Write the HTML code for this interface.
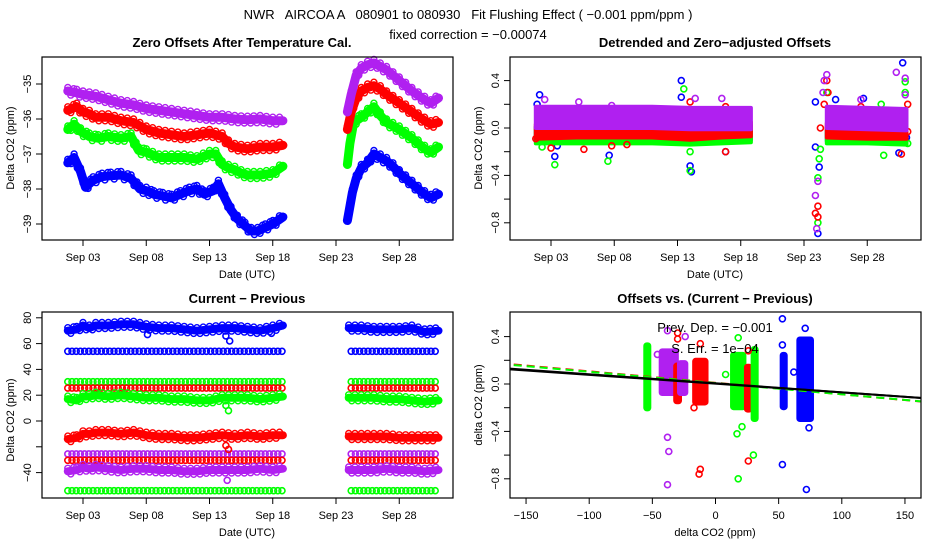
<!DOCTYPE html>
<html><head><meta charset="utf-8"><style>
body{margin:0;background:#fff}
svg{display:block;font-family:"Liberation Sans",sans-serif}
</style></head><body>
<svg id="c" width="936" height="540" viewBox="0 0 936 540" xmlns="http://www.w3.org/2000/svg">
<rect width="936" height="540" fill="#fff"/>
<text x="468" y="19" text-anchor="middle" font-size="13" style="white-space:pre">NWR   AIRCOA A   080901 to 080930   Fit Flushing Effect ( −0.001 ppm/ppm )</text>
<text x="468" y="39" text-anchor="middle" font-size="13">fixed correction = −0.00074</text>
</svg>
<script>
// ---------- data ----------
const colors = {blue:'#0000ff', green:'#00ff00', red:'#ff0000', purple:'#b020f0'};
const seriesOrder = ['blue','green','red','purple'];
const dateTickDays = [3,8,13,18,23,28];
const dateTickLabels = ['Sep 03','Sep 08','Sep 13','Sep 18','Sep 23','Sep 28'];

// Panel 1: zero offsets
const p1Days = {
  blue:[1.8,2.3,2.8,3.2,3.8,4.5,5.2,6,6.8,7.5,8,8.6,9.3,10,10.7,11.4,12,12.6,13.3,13.7,14.2,14.7,15.2,15.8,16.3,16.8,17.4,18,18.8, 23.9,24.1,24.3,24.6,25,25.5,26,26.5,27,27.5,28,28.5,29,29.5,30,30.5,31.1],
  green:[1.8,2.3,2.8,3.5,4.2,5,6,6.8,7.4,8,9,10,11,12,13,13.5,14,14.5,15,15.5,16,17,18,18.8, 23.9,24.1,24.4,25,25.5,26,26.5,27,28,29,29.5,30,30.5,31.1],
  red:[1.8,2.5,3,3.5,4,5,6,7,7.5,8,9,10,11,12,13,14,14.5,15,16,17,18,18.8, 23.9,24.2,24.6,25,25.5,26,26.5,27,28,29,30,30.5,31.1],
  purple:[1.8,2.5,3,4,5,6,7,8,9,10,11,12,13,14,15,16,17,18,18.8, 23.9,24.2,24.6,25,25.5,26,26.5,27,28,29,30,30.5,31.1]
};
const p1Vals = {
  blue:[-37.25,-37.1,-37.5,-37.95,-37.75,-37.65,-37.62,-37.6,-37.7,-38.0,-38.05,-38.15,-38.2,-38.25,-38.15,-38.05,-38.0,-38.15,-38.05,-37.85,-38.25,-38.6,-38.85,-39.05,-39.2,-39.2,-39.1,-39.0,-38.8, -38.9,-38.5,-38.1,-37.7,-37.4,-37.25,-37.0,-37.1,-37.2,-37.35,-37.55,-37.7,-37.85,-38.0,-38.15,-38.25,-38.15],
  green:[-36.3,-36.15,-36.35,-36.5,-36.55,-36.5,-36.55,-36.5,-36.9,-36.95,-37.1,-37.1,-37.1,-37.15,-37.0,-37.0,-37.3,-37.4,-37.45,-37.55,-37.6,-37.6,-37.55,-37.35, -37.3,-36.7,-36.1,-35.95,-35.8,-35.65,-35.9,-36.1,-36.3,-36.55,-36.7,-36.85,-36.95,-36.8],
  red:[-35.75,-35.65,-35.8,-35.85,-35.95,-35.95,-36.05,-36.1,-36.2,-36.3,-36.4,-36.45,-36.5,-36.45,-36.4,-36.5,-36.7,-36.8,-36.85,-36.8,-36.8,-36.75, -36.3,-35.8,-35.4,-35.2,-35.1,-35.05,-35.15,-35.3,-35.55,-35.8,-36.05,-36.15,-36.1],
  purple:[-35.2,-35.25,-35.3,-35.35,-35.45,-35.55,-35.6,-35.7,-35.75,-35.8,-35.85,-35.9,-35.95,-35.95,-36.0,-36.02,-36.0,-36.05,-36.05, -35.8,-35.3,-34.75,-34.55,-34.45,-34.4,-34.5,-34.6,-34.9,-35.2,-35.45,-35.55,-35.4]
};

// Panel 2: detrended band centres + outliers
const p2Days = [1.8,5,8,11,14,16.5,18.8, 24.8,28,31.1];
const p2Vals = {
  blue:[-0.05,-0.05,-0.05,-0.05,-0.06,-0.05,-0.04, -0.05,-0.05,-0.05],
  green:[-0.07,-0.07,-0.07,-0.07,-0.08,-0.07,-0.06, -0.07,-0.07,-0.08],
  red:[-0.03,-0.02,-0.02,-0.02,-0.04,-0.02,-0.01, -0.02,-0.03,-0.03],
  purple:[0.09,0.09,0.09,0.09,0.08,0.08,0.08, 0.09,0.08,0.07]
};
const p2OutDays = {
  blue:[2.1,1.9,3.3,3.5,7.6,13.3,13.3,14,14.1,16.8,23.9,23.9,24.2,24.1,25.5,27.7,30.8,31.1,30.5],
  green:[3.3,7.5,13.5,14,14,24.1,24.1,24.2,24.3,24.8,29.1,29.3,31,31,31.2,2.3],
  red:[1.8,3,5.6,7.8,9,14,16.8,16.8,23.9,24.1,24.1,24.3,24.6,24.8,24.9,27.5,30.7,31.2,31.2],
  purple:[2.5,5.2,7.8,14.4,16.5,23.9,24,24.1,24.5,24.8,24.6,27.5,30.3,31,31,30.5]
};
const p2OutVals = {
  blue:[0.28,0.2,-0.24,-0.15,-0.23,0.4,0.26,-0.32,-0.37,-0.2,0.22,-0.16,-0.33,-0.89,0.24,0.25,0.55,-0.08,-0.21],
  green:[-0.31,-0.28,0.33,-0.36,-0.2,-0.8,-0.42,-0.26,-0.18,0.3,0.2,-0.23,0.39,0.3,-0.13,-0.16],
  red:[-0.09,-0.17,-0.18,-0.15,-0.14,0.22,0.18,-0.2,-0.72,-0.75,-0.66,0.0,0.2,0.4,0.3,0.18,-0.22,0.2,-0.03],
  purple:[0.24,0.22,0.19,0.25,0.25,-0.57,-0.85,-0.45,0.3,0.45,0.4,0.24,0.47,0.42,0.28,0.14]
};

// Panel 3: current - previous
const p3Days = [1.8,2.5,3,3.5,4,5,6,7,8,9,10,11,12,13,14,15,16,17,18,18.8, 24,25,26,27,28,29,30,31.1];
const p3Vals = {
  blue:[70,71,74,72,74,74,75,75,73,72,72,71,70,71,72,72,71,70,72,74, 72,72,71,71,71,72,69,70],
  green:[17,16,19,19,20,19,20,19,18,18,17,17,16,16,18,18,18,17,18,19, 18,18,18,17,17,16,15,16],
  red:[-14,-13,-10,-10,-9,-9,-10,-9,-11,-12,-12,-13,-13,-12,-11,-12,-11,-12,-11,-11, -12,-12,-12,-12,-13,-13,-13,-13],
  purple:[-39,-38,-36,-37,-36,-37,-38,-37,-37,-38,-38,-39,-39,-38,-38,-38,-38,-37,-38,-37, -38,-38,-38,-37,-38,-38,-39,-38]
};
const p3ConstColors = ['blue','green','red','purple','red','green'];
const p3ConstVals = [54,30.5,25.5,-25.5,-30.5,-54];
const p3ConstDays = [1.8,18.8,24.2,31.1];
const p3OutColors = ['blue','blue','blue','blue','green','green','red','red','purple'];
const p3OutDays = [14.3,14.6,17.9,8.1,14.3,14.5,14.3,14.5,14.4];
const p3OutVals = [66,62,68,67,12,8,-19,-22,-46];

// Panel 4: offsets vs (current - previous)
const p4ClColors = ['green','purple','red','purple','red','green','red','green','blue','blue'];
const p4ClX   = [-54,-37,-30,-26,-12,18,26,31,54,71];
const p4ClW   = [1.2,6,1.5,2.5,4.5,4.5,1.5,1.2,1.2,5];
const p4ClLo  = [-0.21,-0.08,-0.15,-0.08,-0.16,-0.2,-0.22,-0.3,-0.2,-0.3];
const p4ClHi  = [0.33,0.28,0.16,0.18,0.2,0.25,0.15,0.3,0.25,0.38];
const p4OutColors = ['purple','purple','purple','purple','purple','purple','red','red','red','red','red','red','red','red','green','green','green','green','green','green','green','blue','blue','blue','blue','blue','blue','blue'];
const p4OutX = [-38,-37,-38,-46,-24,-38,-30,-30,-12,-13,-17,26,-12,26,18,17,21,30,18,8,31,53,53,72,71,53,62,74];
const p4OutY = [-0.45,-0.57,-0.85,0.25,0.4,0.45,0.43,0.38,-0.72,-0.76,-0.2,-0.65,0.34,0.28,-0.8,-0.42,-0.36,-0.6,0.39,0.08,0.23,0.55,-0.68,-0.89,0.47,0.33,0.1,-0.37];
const fitColors = ['red','green','black','black'];
const fitIntercepts = [0.01,0.008,0.006,0.003];
const fitSlopes = [-0.00097,-0.00095,-0.00076,-0.00074];
const p4XTicks = [-150,-100,-50,0,50,100,150];
const offTicks = [0.4,0.2,0.0,-0.2,-0.4,-0.6,-0.8];
const offTickLabels = ['0.4','','0.0','','−0.4','','−0.8'];
const p1Ticks = [-35,-36,-37,-38,-39];
const p3Ticks = [80,60,40,20,0,-20,-40];
const p3TickLabels = ['80','60','40','20','0','','−40'];

// ---------- drawing ----------
const svg = document.getElementById('c');
const NS = 'http://www.w3.org/2000/svg';
function mk(tag, attrs, parent){const e=document.createElementNS(NS,tag);for(const k in attrs)e.setAttribute(k,attrs[k]);(parent||svg).appendChild(e);return e;}
function col(c){return c==='black'?'#000':colors[c];}

function xDayL(d){return 83+(d-3)*12.65;}
function xDayR(d){return 551+(d-3)*12.65;}
const y1 = v => 84+(-35-v)*35;
const yOff = v => 128-v*118.5;
const y3 = v => 421-v*1.29;
const x4 = v => 715.5+v*1.263;
const y4 = v => 384-v*118.5;

function frame(g, x0,x1,y0,yb, name){
  const r = mk('rect',{x:x0,y:y0,width:x1-x0,height:yb-y0,fill:'none',stroke:'#000','stroke-width':1.2},g);
  
  
}
function title(txt,x,y,name){const t=mk('text',{x:x,y:y,'text-anchor':'middle','font-size':13,'font-weight':'bold'});t.textContent=txt;}
function label(txt,x,y,rot,name){const t=mk('text',{x:x,y:y,'text-anchor':'middle','font-size':11,transform:rot?`rotate(-90 ${x} ${y})`:''});t.textContent=txt;}
function xTicks(g, vals, labs, xf, yb, name){
  vals.forEach((v,i)=>{const x=xf(v);
    const l=mk('line',{x1:x,x2:x,y1:yb,y2:yb+6,stroke:'#000'},g);
    
    
    const t=mk('text',{x:x,y:yb+21,'text-anchor':'middle','font-size':11},g);t.textContent=labs[i];
    
    });
}
function yTicks(g, vals, labs, yf, xl, name){
  vals.forEach((v,i)=>{const y=yf(v);
    const l=mk('line',{x1:xl-6,x2:xl,y1:y,y2:y,stroke:'#000'},g);
    
    
    if(labs[i]){const t=mk('text',{x:xl-11,y:y,'text-anchor':'middle','font-size':11,transform:`rotate(-90 ${xl-11} ${y})`},g);t.textContent=labs[i];
    
    }});
}
function segments(days, vals){const segs=[];let cur=[];for(let i=0;i<days.length;i++){const d=days[i];if(cur.length>0&&d-cur[cur.length-1][0]>4.5){segs.push(cur);cur=[];}cur.push([d,vals[i]]);}if(cur.length)segs.push(cur);return segs;}
function band(g, days, vals, xf, yf, c, width, name){
  segments(days, vals).forEach(seg=>{
    const pts=seg.map(p=>[xf(p[0]),yf(p[1])]);
    const pl=mk('polyline',{points:pts.map(p=>p[0].toFixed(1)+','+p[1].toFixed(1)).join(' '),fill:'none',stroke:col(c),'stroke-width':width,'stroke-linejoin':'round','stroke-linecap':'round'},g);
    
    
    for(let i=0;i<pts.length-1;i++){const ax=pts[i][0],ay=pts[i][1],bx=pts[i+1][0],by=pts[i+1][1];const n=Math.max(1,Math.round((bx-ax)/3));
      for(let k=0;k<n;k++){const t=k/n;const x=ax+(bx-ax)*t,y=ay+(by-ay)*t;const off=(k%2?1:-1)*(width/2-1);
        const ci=mk('circle',{cx:x.toFixed(1),cy:(y+off).toFixed(1),r:3,fill:'none',stroke:col(c),'stroke-width':1.4},g);
        
        }}
  });
}
function pt(g,x,y,c,name){const ci=mk('circle',{cx:x.toFixed(1),cy:y.toFixed(1),r:3,fill:'none',stroke:col(c),'stroke-width':1.6},g);
  
  }

// Panel 1
{const g=mk('g',{});
 title('Zero Offsets After Temperature Cal.',242,47,'panel1-title');
 seriesOrder.forEach(c=>band(g,p1Days[c],p1Vals[c],xDayL,y1,c,9,'p1-series-'+c));
 frame(g,42,453,57,240,'panel1');
 xTicks(g,dateTickDays,dateTickLabels,xDayL,240,'p1-x');
 yTicks(g,p1Ticks,p1Ticks.map(v=>'−'+Math.abs(v)),y1,42,'p1-y');
 label('Date (UTC)',247,278,false,'p1-x-axis-title');
 label('Delta CO2 (ppm)',14,148,true,'p1-y-axis-title');}

// Panel 2
{const g=mk('g',{});
 title('Detrended and Zero−adjusted Offsets',715,47,'panel2-title');
 const halfw={blue:0.06,green:0.06,red:0.06,purple:0.09};
 seriesOrder.forEach(c=>{
   segments(p2Days,p2Vals[c]).forEach(seg=>{
     const top=seg.map(p=>xDayR(p[0]).toFixed(1)+','+yOff(p[1]+halfw[c]).toFixed(1));
     const bot=seg.slice().reverse().map(p=>xDayR(p[0]).toFixed(1)+','+yOff(p[1]-halfw[c]).toFixed(1));
     const pg=mk('polygon',{points:top.concat(bot).join(' '),fill:col(c),stroke:col(c),'stroke-width':4,'stroke-linejoin':'round'},g);
     
     
   });
   p2OutDays[c].forEach((d,i)=>pt(g,xDayR(d),yOff(p2OutVals[c][i]),c,'p2-outlier-'+c));});
 frame(g,510,921,57,240,'panel2');
 xTicks(g,dateTickDays,dateTickLabels,xDayR,240,'p2-x');
 yTicks(g,offTicks,offTickLabels,yOff,510,'p2-y');
 label('Date (UTC)',715,278,false,'p2-x-axis-title');
 label('Delta CO2 (ppm)',482,148,true,'p2-y-axis-title');}

// Panel 3
{const g=mk('g',{});
 title('Current − Previous',247,303,'panel3-title');
 p3ConstVals.forEach((v,i)=>{const c=p3ConstColors[i];
   for(let s=0;s<p3ConstDays.length;s+=2){const xa=xDayL(p3ConstDays[s]),xb=xDayL(p3ConstDays[s+1]);
     for(let x=xa;x<=xb;x+=4.2)pt(g,x,y3(v),c,'p3-const-'+c);}});
 seriesOrder.forEach(c=>band(g,p3Days,p3Vals[c],xDayL,y3,c,8,'p3-series-'+c));
 p3OutDays.forEach((d,i)=>pt(g,xDayL(d),y3(p3OutVals[i]),p3OutColors[i],'p3-outlier'));
 frame(g,42,453,312,498,'panel3');
 xTicks(g,dateTickDays,dateTickLabels,xDayL,498,'p3-x');
 yTicks(g,p3Ticks,p3TickLabels,y3,42,'p3-y');
 label('Date (UTC)',247,536,false,'p3-x-axis-title');
 label('Delta CO2 (ppm)',14,420,true,'p3-y-axis-title');}

// Panel 4
{const g=mk('g',{});
 title('Offsets vs. (Current − Previous)',715,303,'panel4-title');
 const clip=mk('clipPath',{id:'cp4'},g);mk('rect',{x:510,y:312,width:411,height:186},clip);
 const inner=mk('g',{'clip-path':'url(#cp4)'},g);
 p4ClX.forEach((x,i)=>{const c=p4ClColors[i];const xa=x4(x-p4ClW[i]),xb=x4(x+p4ClW[i]);const ya=y4(p4ClHi[i]),yb=y4(p4ClLo[i]);
   const r=mk('rect',{x:xa-2,y:ya-2,width:xb-xa+4,height:yb-ya+4,rx:3,fill:col(c),stroke:col(c),'stroke-width':1},inner);
   
   });
 p4OutX.forEach((x,i)=>pt(inner,x4(x),y4(p4OutY[i]),p4OutColors[i],'p4-outlier'));
 fitColors.forEach((c,i)=>{const xa=-170,xb=170;
   const l=mk('line',{x1:x4(xa),x2:x4(xb),y1:y4(fitIntercepts[i]+fitSlopes[i]*xa),y2:y4(fitIntercepts[i]+fitSlopes[i]*xb),stroke:col(c),'stroke-width':2,'stroke-dasharray':c==='black'?'none':'8,5'},inner);
   
   });
 const t1=mk('text',{x:715,y:332,'text-anchor':'middle','font-size':13},g);t1.textContent='Prev. Dep. =  −0.001';
 
 
 const t2=mk('text',{x:715,y:353,'text-anchor':'middle','font-size':13},g);t2.textContent='S. Err. =  1e−04';
 
 
 frame(g,510,921,312,498,'panel4');
 xTicks(g,p4XTicks,p4XTicks.map(v=>v<0?'−'+Math.abs(v):String(v)),x4,498,'p4-x');
 yTicks(g,offTicks,offTickLabels,y4,510,'p4-y');
 label('delta CO2 (ppm)',715,536,false,'p4-x-axis-title');
 label('delta CO2 (ppm)',482,405,true,'p4-y-axis-title');}
</script>
</body></html>
